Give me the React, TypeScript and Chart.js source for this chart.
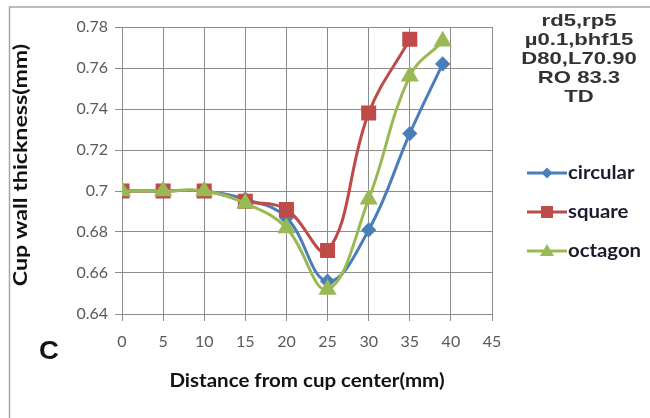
import React, { useEffect, useRef } from "react";
import { Chart, registerables } from "chart.js";

Chart.register(...registerables);

const xCircular = [0, 5, 10, 15, 20, 25, 30, 35, 39];
const yCircular = [0.7, 0.7, 0.7, 0.696, 0.687, 0.656, 0.681, 0.728, 0.762];
const xSquare = [0, 5, 10, 15, 20, 25, 30, 35];
const ySquare = [0.7, 0.7, 0.7, 0.695, 0.691, 0.671, 0.738, 0.774];
const xOctagon = [0, 5, 10, 15, 20, 25, 30, 35, 39];
const yOctagon = [0.7, 0.7, 0.7, 0.694, 0.682, 0.652, 0.696, 0.756, 0.773];

const seriesNames = ["circular", "square", "octagon"];
const seriesColors = ["#4a7ebb", "#be4b48", "#98b954"];
const noteLines = ["rd5,rp5", "\u00b50.1,bhf15", "D80,L70.90", "RO 83.3", "TD"];
const panelLabel = "C";
const xTitle = "Distance from cup center(mm)";
const yTitle = "Cup wall thickness(mm)";

const toPoints = (xs: number[], ys: number[]) => xs.map((x, i) => ({ x, y: ys[i] }));

function stretchedText(ctx: any, text: string, cx: number, cy: number, sx: number, rot = 0) {
  ctx.save();
  ctx.translate(cx, cy);
  if (rot) ctx.rotate(rot);
  ctx.scale(sx, 1);
  ctx.textAlign = "center";
  ctx.textBaseline = "middle";
  ctx.fillText(text, 0, 0);
  ctx.restore();
}

function leftText(ctx: any, text: string, x: number, cy: number, sx: number) {
  ctx.save();
  ctx.translate(x, cy);
  ctx.scale(sx, 1);
  ctx.textAlign = "left";
  ctx.textBaseline = "middle";
  ctx.fillText(text, 0, 0);
  ctx.restore();
}

const decorPlugin = {
  id: "decor",
  beforeDraw(chart: any) {
    const ctx = chart.ctx;
    ctx.save();
    ctx.fillStyle = "#ffffff";
    ctx.fillRect(0, 0, chart.width, chart.height);
    ctx.strokeStyle = "#a6a6a6";
    ctx.lineWidth = 1.5;
    ctx.beginPath();
    ctx.moveTo(9.5, chart.height);
    ctx.lineTo(9.5, 7);
    ctx.lineTo(chart.width, 7);
    ctx.stroke();
    ctx.restore();
  },
  afterDraw(chart: any) {
    const ctx = chart.ctx;
    const area = chart.chartArea;
    ctx.save();
    // axis titles
    ctx.fillStyle = "#111111";
    ctx.font = "bold 19px Lato, 'Open Sans', sans-serif";
    stretchedText(ctx, xTitle, (area.left + area.right) / 2, 381, 1.08);
    stretchedText(ctx, yTitle, 21, 165, 1.22, -Math.PI / 2);
    // notes
    ctx.fillStyle = "#333333";
    ctx.font = "bold 17px 'Liberation Sans', Arial, sans-serif";
    noteLines.forEach((t, i) => stretchedText(ctx, t, 579, 21 + i * 19, 1.3));
    // panel label
    ctx.fillStyle = "#111111";
    ctx.font = "bold 25px 'Liberation Sans', Arial, sans-serif";
    stretchedText(ctx, panelLabel, 49, 352, 1.1);
    // legend
    const metas = chart.data.datasets;
    const ys = [173, 212, 251];
    metas.forEach((ds: any, i: number) => {
      const y = ys[i];
      ctx.strokeStyle = ds.borderColor;
      ctx.lineWidth = 3;
      ctx.beginPath();
      ctx.moveTo(527, y);
      ctx.lineTo(567, y);
      ctx.stroke();
      ctx.fillStyle = ds.backgroundColor;
      const cx = 547;
      ctx.beginPath();
      if (ds.pointStyle === "rectRot") {
        const r = 5.5;
        ctx.moveTo(cx - r, y);
        ctx.lineTo(cx, y - r);
        ctx.lineTo(cx + r, y);
        ctx.lineTo(cx, y + r);
        ctx.closePath();
      } else if (ds.pointStyle === "rect") {
        ctx.rect(cx - 6, y - 6, 12, 12);
      } else {
        ctx.moveTo(cx, y - 7);
        ctx.lineTo(cx + 7, y + 5);
        ctx.lineTo(cx - 7, y + 5);
        ctx.closePath();
      }
      ctx.fill();
      ctx.fillStyle = "#1e1a2e";
      ctx.font = "bold 19px Lato, 'Open Sans', sans-serif";
      leftText(ctx, ds.label, 568, y, 1.07);
    });
    ctx.restore();
  },
};

export default function App() {
  const ref = useRef<HTMLCanvasElement | null>(null);
  useEffect(() => {
    if (!ref.current) return;
    const grid = "#8c8c8c";
    const chart = new Chart(ref.current, {
      type: "line",
      data: {
        datasets: [
          {
            label: seriesNames[0],
            data: toPoints(xCircular, yCircular),
            borderColor: seriesColors[0],
            backgroundColor: seriesColors[0],
            pointStyle: "rectRot",
            pointRadius: 5.5,
            borderWidth: 3,
            tension: 0.4,
            order: 3,
          },
          {
            label: seriesNames[1],
            data: toPoints(xSquare, ySquare),
            borderColor: seriesColors[1],
            backgroundColor: seriesColors[1],
            pointStyle: "rect",
            pointRadius: 8.5,
            borderWidth: 3,
            tension: 0.4,
            order: 2,
          },
          {
            label: seriesNames[2],
            data: toPoints(xOctagon, yOctagon),
            borderColor: seriesColors[2],
            backgroundColor: seriesColors[2],
            pointStyle: "triangle",
            pointRadius: 7.5,
            borderWidth: 3,
            tension: 0.4,
            order: 1,
          },
        ] as any,
      },
      options: {
        animation: false,
        responsive: false,
        layout: { padding: { left: 0, right: 158, top: 27, bottom: 0 } },
        plugins: { legend: { display: false }, tooltip: { enabled: false } },
        elements: { point: { borderWidth: 1 } },
        scales: {
          x: {
            type: "linear",
            min: 0,
            max: 45,
            ticks: { stepSize: 5, color: "#595959", font: { family: "Lato", size: 16 }, padding: 11 },
            grid: { color: grid, tickLength: 7 },
            border: { color: grid },
            afterFit: (s: any) => {
              s.height = 104;
            },
          },
          y: {
            type: "linear",
            min: 0.64,
            max: 0.78,
            ticks: {
              stepSize: 0.02,
              color: "#595959",
              font: { family: "Lato", size: 16 },
              padding: 7,
              callback: (v: any) => String(Number(Number(v).toFixed(2))),
            },
            grid: { color: grid, tickLength: 7 },
            border: { color: grid },
            afterFit: (s: any) => {
              s.width = 122;
            },
          },
        },
      } as any,
      plugins: [decorPlugin],
    });
    return () => chart.destroy();
  }, []);
  return (
    <div style={{ position: "absolute", left: 0, top: 0, width: 650, height: 418 }}>
      <canvas ref={ref} width={650} height={418} style={{ display: "block" }} />
    </div>
  );
}
